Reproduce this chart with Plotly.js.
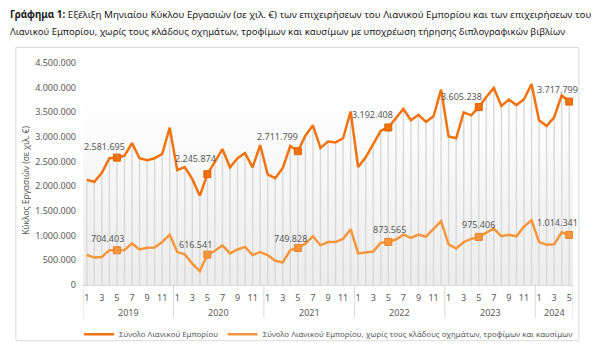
<!DOCTYPE html>
<html>
<head>
<meta charset="utf-8">
<script src="https://cdn.plot.ly/plotly-3.0.1.min.js"></script>
<style>html,body{margin:0;padding:0;background:#fff;}#chart{width:600px;height:361px;}</style>
</head>
<body>
<div id="chart"></div>
<script>
// ---- data ----
const years = [2019, 2020, 2021, 2022, 2023, 2024];
const monthsPerYear = [12, 12, 12, 12, 12, 5];
const tickMonths = [1, 3, 5, 7, 9, 11];
const labelMonth = 5;
const seriesNames = [
  "Σύνολο Λιανικού Εμπορίου",
  "Σύνολο Λιανικού Εμπορίου, χωρίς τους κλάδους οχημάτων, τροφίμων και καυσίμων"
];
const totalRetail = [
  2131000, 2092000, 2275000, 2569000, 2581695, 2620000, 2876000, 2570000, 2530000, 2570000, 2655000, 3190000,
  2330000, 2390000, 2145000, 1810000, 2245874, 2504000, 2753000, 2386000, 2569000, 2674000, 2386000, 2837000,
  2243000, 2165000, 2373000, 2818000, 2711799, 3027000, 3236000, 2780000, 2910000, 2890000, 2974000, 3517000,
  2392000, 2588000, 2851000, 3125000, 3192408, 3386000, 3569000, 3341000, 3451000, 3308000, 3420000, 3961000,
  3010000, 2974000, 3498000, 3439000, 3605238, 3812000, 3994000, 3628000, 3759000, 3647000, 3765000, 4073000,
  3341000, 3223000, 3400000, 3843000, 3717799
];
const retailExcl = [
  608000, 556000, 569000, 706000, 704403, 710000, 843000, 720000, 753000, 759000, 870000, 1020000,
  667000, 622000, 435000, 282000, 616541, 694000, 804000, 641000, 720000, 772000, 608000, 667000,
  608000, 490000, 459000, 706000, 749828, 837000, 988000, 804000, 870000, 870000, 935000, 1131000,
  641000, 661000, 680000, 857000, 873565, 922000, 1020000, 955000, 1020000, 980000, 1131000, 1294000,
  824000, 739000, 870000, 935000, 975406, 1053000, 1145000, 988000, 1020000, 988000, 1184000, 1314000,
  870000, 818000, 824000, 1067000, 1014341
];

// ---- build categories ----
const cats = [], monthOf = [];
years.forEach((y, i) => { for (let m = 1; m <= monthsPerYear[i]; m++) { cats.push(y + "-" + m); monthOf.push(m); } });
const tickVals = cats.filter((c, i) => tickMonths.includes(monthOf[i]));
const tickText = tickVals.map(c => c.split("-")[1]);
const hlIdx = monthOf.map((m, i) => m === labelMonth ? i : -1).filter(i => i >= 0);
const fmt = v => String(Math.round(v)).replace(/\B(?=(\d{3})+(?!\d))/g, ".");

// ---- styles ----
const cTop = "#F0730F", cBot = "#F7963C", gray = "#595959", lineGray = "#d9d9d9";
const FONT = "'Noto Sans', 'DejaVu Sans', sans-serif";
const topShift = [[-12, 11], [-12, 16], [-20, 15], [-16, 13], [-17, 11], [-12, 12]];
const botShift = [[-9, 12], [-12, 10], [-7, 10], [1, 12], [0, 12], [-12, 12]];

const traces = [
  { x: cats, y: totalRetail, type: "scatter", mode: "markers", marker: { opacity: 0 }, showlegend: false, hoverinfo: "skip",
    error_y: { type: "data", symmetric: false, array: totalRetail.map(() => 0), arrayminus: totalRetail, width: 0, thickness: 1.4, color: lineGray } },
  { x: cats, y: totalRetail, type: "scatter", mode: "lines", name: seriesNames[0], legend: "legend", line: { color: cTop, width: 2.5 } },
  { x: cats, y: retailExcl, type: "scatter", mode: "lines", name: seriesNames[1], legend: "legend2", line: { color: cBot, width: 2.5 } },
  { x: hlIdx.map(i => cats[i]), y: hlIdx.map(i => totalRetail[i]), type: "scatter", mode: "markers", showlegend: false,
    marker: { symbol: "square", size: 7, color: cTop, line: { color: "#E06000", width: 1 } } },
  { x: hlIdx.map(i => cats[i]), y: hlIdx.map(i => retailExcl[i]), type: "scatter", mode: "markers", showlegend: false,
    marker: { symbol: "square", size: 7, color: cBot, line: { color: "#E8802A", width: 1 } } }
];

const annotations = [];
annotations.push({ xref: "paper", yref: "paper", x: -0.153, y: 1.217, xanchor: "left", yanchor: "middle", showarrow: false,
  text: "<b>Γράφημα 1:</b> Εξέλιξη Μηνιαίου Κύκλου Εργασιών (σε χιλ. €) των επιχειρήσεων του Λιανικού Εμπορίου και των επιχειρήσεων του",
  font: { family: FONT, size: 9.8, color: "#1a1a1a" } });
annotations.push({ xref: "paper", yref: "paper", x: -0.153, y: 1.143, xanchor: "left", yanchor: "middle", showarrow: false,
  text: "Λιανικού Εμπορίου, χωρίς τους κλάδους οχημάτων, τροφίμων και καυσίμων με υποχρέωση τήρησης διπλογραφικών βιβλίων",
  font: { family: FONT, size: 9.5, color: "#1a1a1a" } });
annotations.push({ xref: "paper", yref: "paper", x: -0.116, y: 0.47, xanchor: "center", yanchor: "middle", showarrow: false,
  textangle: -90, text: "Κύκλος Εργασιών (σε χιλ. €)", font: { family: FONT, size: 8.5, color: gray } });

// year labels
let start = 0;
years.forEach((y, i) => {
  const n = monthsPerYear[i];
  annotations.push({ xref: "x", yref: "paper", x: start + (n - 1) / 2, y: -0.125, showarrow: false, xanchor: "center", yanchor: "middle",
    text: String(y), font: { family: FONT, size: 9, color: gray } });
  start += n;
});
// data labels
hlIdx.forEach((idx, k) => {
  annotations.push({ x: cats[idx], y: totalRetail[idx], showarrow: false, xanchor: "center", yanchor: "middle",
    xshift: topShift[k][0], yshift: topShift[k][1], text: fmt(totalRetail[idx]), font: { family: FONT, size: 9, color: gray } });
  annotations.push({ x: cats[idx], y: retailExcl[idx], showarrow: false, xanchor: "center", yanchor: "middle",
    xshift: botShift[k][0], yshift: botShift[k][1], text: fmt(retailExcl[idx]), font: { family: FONT, size: 9, color: gray } });
});

// year dividers
const shapes = [];
let b = -0.5;
shapes.push({ type: "line", xref: "x", yref: "paper", x0: b, x1: b, y0: 0, y1: -0.148, line: { color: lineGray, width: 1 } });
monthsPerYear.forEach(n => {
  b += n;
  shapes.push({ type: "line", xref: "x", yref: "paper", x0: b, x1: b, y0: 0, y1: -0.148, line: { color: lineGray, width: 1 } });
});
// chart border
shapes.push({ type: "rect", xref: "paper", yref: "paper", x0: -0.137, x1: 1.012, y0: -0.251, y1: 1.07,
  line: { color: lineGray, width: 1 }, fillcolor: "rgba(0,0,0,0)", layer: "below" });

const grad = "data:image/svg+xml;charset=utf-8," + encodeURIComponent(
  "<svg xmlns='http://www.w3.org/2000/svg' width='10' height='100' viewBox='0 0 10 100' preserveAspectRatio='none'>" +
  "<defs><linearGradient id='g' x1='0' y1='0' x2='0' y2='1'><stop offset='0' stop-color='#ffffff'/>" +
  "<stop offset='0.15' stop-color='#ffffff'/><stop offset='1' stop-color='#ececec'/></linearGradient></defs>" +
  "<rect width='10' height='100' fill='url(#g)'/></svg>");

const legendBase = { orientation: "h", xanchor: "left", y: -0.222, yanchor: "middle", bgcolor: "rgba(0,0,0,0)",
  font: { family: FONT, size: 7.9, color: gray }, itemwidth: 30 };

const layout = {
  width: 600, height: 361,
  margin: { l: 83, r: 27, t: 63, b: 68, pad: 0 },
  paper_bgcolor: "#ffffff", plot_bgcolor: "rgba(0,0,0,0)",
  separators: ",.",
  showlegend: true,
  font: { family: FONT, color: gray, size: 9 },
  xaxis: { type: "category", categoryorder: "array", categoryarray: cats, range: [-0.5, cats.length - 0.5],
    tickvals: tickVals, ticktext: tickText, showgrid: false, zeroline: false, showline: true, linecolor: lineGray, linewidth: 1,
    ticks: "", ticklabelstandoff: 4, tickfont: { family: FONT, size: 9, color: gray }, fixedrange: true },
  yaxis: { range: [0, 4500000], dtick: 500000, tick0: 0, tickformat: ",d", showgrid: false, zeroline: false, showline: false,
    ticks: "", ticklabelstandoff: 6, tickfont: { family: FONT, size: 9, color: gray }, fixedrange: true },
  legend: Object.assign({}, legendBase, { x: -0.008 }),
  legend2: Object.assign({}, legendBase, { x: 0.285 }),
  annotations: annotations,
  shapes: shapes,
  images: [{ source: grad, xref: "paper", yref: "paper", x: 0, y: 1, sizex: 1, sizey: 1, sizing: "stretch",
    xanchor: "left", yanchor: "top", layer: "below" }]
};

Plotly.newPlot("chart", traces, layout, { displayModeBar: false, staticPlot: true });
</script>
</body>
</html>
